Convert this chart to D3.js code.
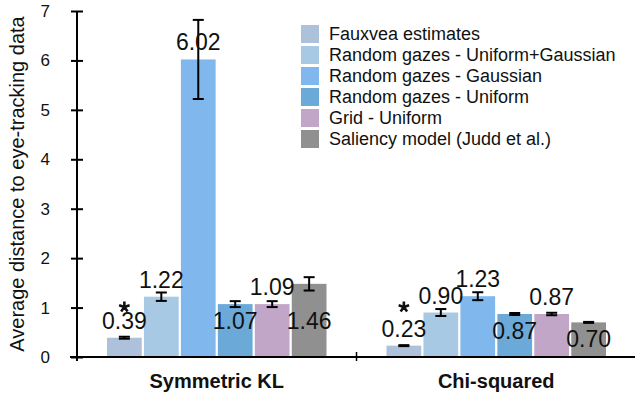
<!DOCTYPE html>
<html>
<head>
<meta charset="utf-8">
<script src="https://cdn.jsdelivr.net/npm/d3@7"></script>
<style>
  body { margin: 0; background: #fff; }
  text { font-family: "Liberation Sans", Arial, Helvetica, sans-serif; fill: #111; }
</style>
</head>
<body>
<div id="chart"></div>
<script>
var categories = ["Symmetric KL", "Chi-squared"];
var series_names = [
  "Fauxvea estimates",
  "Random gazes - Uniform+Gaussian",
  "Random gazes - Gaussian",
  "Random gazes - Uniform",
  "Grid - Uniform",
  "Saliency model (Judd et al.)"
];
var series_colors = ["#aec1da", "#a8c9e3", "#80b8ee", "#6ba9d9", "#c1a6c7", "#8f908f"];
// bar heights per category (rows) and series (columns)
var values = [
  [0.39, 1.22, 6.02, 1.07, 1.07, 1.48],
  [0.23, 0.90, 1.23, 0.87, 0.87, 0.70]
];
// printed labels (differ slightly from bar heights in the original)
var value_labels = [
  ["0.39", "1.22", "6.02", "1.07", "1.09", "1.46"],
  ["0.23", "0.90", "1.23", "0.87", "0.87", "0.70"]
];
// half length of the error bars
var errors = [
  [0.02, 0.085, 0.80, 0.06, 0.06, 0.135],
  [0.01, 0.07, 0.08, 0.02, 0.025, 0.01]
];
var y_ticks = [0, 1, 2, 3, 4, 5, 6, 7];
var inside_label_series = [3, 5];
var starred_series = 0;

var width = 635, height = 398;
var axis_x = 77, axis_y = 357, top_y = 11;

var svg = d3.select("#chart").append("svg")
  .attr("width", width)
  .attr("height", height);

var x0 = d3.scaleBand()
  .domain(categories)
  .range([axis_x, width + 1])
  .padding(0);

var x1 = d3.scaleBand()
  .domain(d3.range(series_names.length))
  .range([30, x0.bandwidth() - 30])
  .paddingInner(0.06)
  .paddingOuter(0);

var y = d3.scaleLinear()
  .domain([0, 7])
  .range([axis_y, top_y]);

// y axis
var y_axis = svg.append("g")
  .attr("transform", "translate(" + axis_x + ",0)")
  .call(d3.axisLeft(y).tickValues(y_ticks).tickSize(6).tickPadding(21).tickFormat(d3.format("d")));
y_axis.select(".domain").remove();
y_axis.selectAll(".tick line").attr("x1", 6).attr("stroke", "#000").attr("stroke-width", 2);
y_axis.selectAll(".tick text")
  .style("font-size", "17px")
  .style("font-family", "'Liberation Sans', Arial, sans-serif")
  .attr("fill", "#111");
y_axis.append("line")
  .attr("x1", 0).attr("x2", 0)
  .attr("y1", y(7)).attr("y2", axis_y + 4)
  .attr("stroke", "#000").attr("stroke-width", 2);

svg.append("text")
  .attr("transform", "translate(24," + ((y(0) + y(7)) / 2) + ") rotate(-90)")
  .attr("text-anchor", "middle")
  .style("font-size", "20px")
  .text("Average distance to eye-tracking data");

// five-armed asterisk
function asterisk(r) {
  var p = d3.path();
  for (var k = 0; k < 5; k++) {
    var a = -Math.PI / 2 + k * 2 * Math.PI / 5;
    p.moveTo(0, 0);
    p.lineTo(r * Math.cos(a), r * Math.sin(a));
  }
  return p.toString();
}

// bars
var groups = svg.selectAll("g.group")
  .data(categories)
  .enter().append("g")
  .attr("class", "group")
  .attr("transform", function (d) { return "translate(" + x0(d) + ",0)"; });

groups.each(function (cat, ci) {
  var g = d3.select(this);
  var rows = values[ci].map(function (v, si) {
    return { v: v, si: si, err: errors[ci][si], label: value_labels[ci][si] };
  });

  g.selectAll("rect")
    .data(rows)
    .enter().append("rect")
    .attr("x", function (d) { return x1(d.si); })
    .attr("y", function (d) { return y(d.v); })
    .attr("width", x1.bandwidth())
    .attr("height", function (d) { return y(0) - y(d.v); })
    .attr("fill", function (d) { return series_colors[d.si]; });

  // error bars
  var eb = g.selectAll("g.err")
    .data(rows)
    .enter().append("g")
    .attr("class", "err")
    .attr("transform", function (d) { return "translate(" + (x1(d.si) + x1.bandwidth() / 2) + ",0)"; });
  eb.append("line")
    .attr("y1", function (d) { return y(d.v + d.err); })
    .attr("y2", function (d) { return y(d.v - d.err); })
    .attr("stroke", "#000").attr("stroke-width", 2);
  eb.append("line")
    .attr("x1", -5.5).attr("x2", 5.5)
    .attr("y1", function (d) { return y(d.v + d.err); })
    .attr("y2", function (d) { return y(d.v + d.err); })
    .attr("stroke", "#000").attr("stroke-width", 2);
  eb.append("line")
    .attr("x1", -5.5).attr("x2", 5.5)
    .attr("y1", function (d) { return y(d.v - d.err); })
    .attr("y2", function (d) { return y(d.v - d.err); })
    .attr("stroke", "#000").attr("stroke-width", 2);

  // value labels
  function label_y(d) {
    if (inside_label_series.indexOf(d.si) >= 0) {
      return Math.max(y(d.v) + 25, y(0) - 28);
    }
    return y(d.v) - 9;
  }
  g.selectAll("text.val")
    .data(rows)
    .enter().append("text")
    .attr("class", "val")
    .attr("x", function (d) { return x1(d.si) + x1.bandwidth() / 2; })
    .attr("y", label_y)
    .attr("text-anchor", "middle")
    .style("font-size", "23px")
    .text(function (d) { return d.label; });

  var s = rows[starred_series];
  g.append("path")
    .attr("transform", "translate(" + (x1(s.si) + x1.bandwidth() / 2) + "," + (y(0) - 50) + ")")
    .attr("d", asterisk(5.5))
    .attr("fill", "none")
    .attr("stroke", "#111")
    .attr("stroke-width", 2.6);
});

// x axis
svg.append("line")
  .attr("x1", 70).attr("x2", width)
  .attr("y1", axis_y).attr("y2", axis_y)
  .attr("stroke", "#000").attr("stroke-width", 2);
svg.selectAll("line.xtick")
  .data(categories.slice(1))
  .enter().append("line")
  .attr("class", "xtick")
  .attr("x1", function (d) { return x0(d); })
  .attr("x2", function (d) { return x0(d); })
  .attr("y1", axis_y - 5).attr("y2", axis_y + 4)
  .attr("stroke", "#000").attr("stroke-width", 1.5);
svg.selectAll("text.cat")
  .data(categories)
  .enter().append("text")
  .attr("class", "cat")
  .attr("x", function (d) { return x0(d) + x0.bandwidth() / 2; })
  .attr("y", 388)
  .attr("text-anchor", "middle")
  .style("font-size", "20px")
  .style("font-weight", "bold")
  .text(function (d) { return d; });

// legend
var legend = svg.append("g")
  .attr("transform", "translate(301,25)");
var items = legend.selectAll("g")
  .data(series_names)
  .enter().append("g")
  .attr("transform", function (d, i) { return "translate(0," + (i * 21) + ")"; });
items.append("rect")
  .attr("width", 18).attr("height", 18)
  .attr("fill", function (d, i) { return series_colors[i]; });
items.append("text")
  .attr("x", 28).attr("y", 9).attr("dy", "0.35em")
  .style("font-size", "18px")
  .text(function (d) { return d; });
</script>
</body>
</html>
